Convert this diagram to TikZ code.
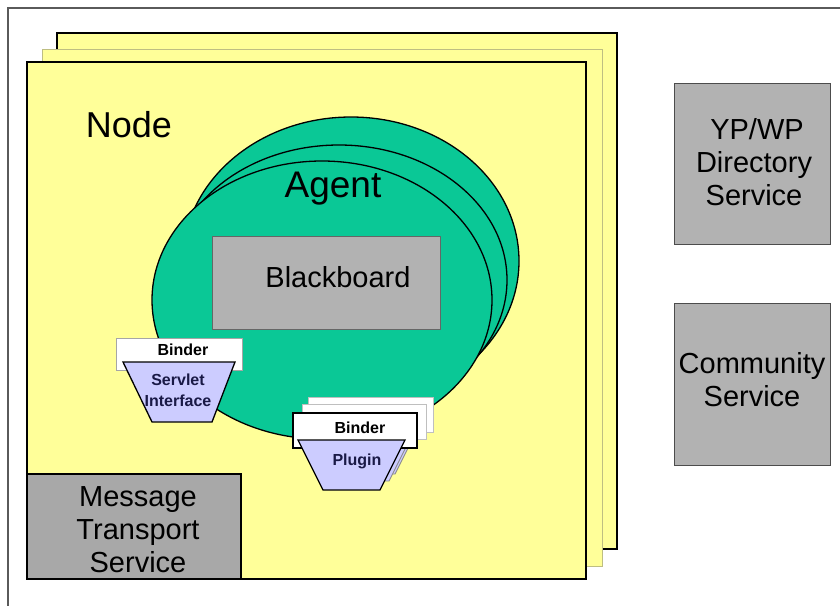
\documentclass[tikz,border=0pt]{standalone}
\usepackage{fontspec}
\setmainfont{Liberation Sans}
\usetikzlibrary{calc}
\definecolor{sheetyellow}{RGB}{255,255,153}
\definecolor{sheetedge}{RGB}{190,190,130}
\definecolor{agentgreen}{RGB}{10,200,150}
\definecolor{boxgray}{RGB}{178,178,178}
\definecolor{mtsgray}{RGB}{168,168,168}
\definecolor{lavender}{RGB}{204,204,255}
\definecolor{navytext}{RGB}{25,25,70}
\definecolor{framegray}{RGB}{90,90,90}

\tikzset{
  frameline/.style={draw=framegray, line width=1.3pt},
  sheetfront/.style={fill=sheetyellow, draw=black, line width=1.8pt},
  sheetmid/.style={fill=sheetyellow, draw=sheetedge, line width=1pt},
  agentshape/.style={fill=agentgreen, draw=black, line width=1.3pt},
  servicebox/.style={fill=boxgray, draw=black!70, line width=0.9pt},
  mtsbox/.style={fill=mtsgray, draw=black, line width=1.8pt},
  binderback/.style={fill=white, draw=black!25, line width=0.9pt},
  binderfront/.style={fill=white, draw=black, line width=1.8pt},
  pluginback/.style={fill=lavender, draw=black!45, line width=0.9pt},
  pluginfront/.style={fill=lavender, draw=black, line width=1.3pt},
  bigtext/.style={inner sep=0pt, align=center, font=\fontsize{29}{33}\selectfont},
  smalltext/.style={inner sep=0pt, align=center, font=\fontsize{16}{21}\selectfont\bfseries},
}

\begin{document}
\begin{tikzpicture}[x=1pt, y=-1pt]
\useasboundingbox (0,0) rectangle (840,605);
\fill[white] (0,0) rectangle (840,605);

% outer frame
\draw[frameline] (8,610) -- (8,8) -- (845,8);

% stacked node sheets
\path[sheetfront] (57,33) rectangle (617,549);
\path[sheetmid]   (42,49) rectangle (602,566);
\path[sheetfront] (27,62) rectangle (586,579);

\node[inner sep=0pt, font=\fontsize{36}{40}\selectfont] (nodelabel) at (129,125) {Node};

% stacked agents
\path[agentshape] (351,261) ellipse [x radius=168, y radius=144];
\path[agentshape] (339,280) ellipse [x radius=168, y radius=135];
\path[agentshape] (322,300) ellipse [x radius=170, y radius=139];

\node[inner sep=0pt, font=\fontsize{37}{40}\selectfont] (agentlabel) at (333,189) {Agent};

% blackboard
\path[servicebox, draw=black!60] (212,236) rectangle (440,329);
\node[bigtext] (blackboard) at (338,277) {Blackboard};

% servlet interface with its binder
\path[binderback, draw=black!35] (116,338) rectangle (242,370);
\node[smalltext] (servletbinder) at (183,350) {Binder};
\path[pluginfront] (123,362) -- (235,362) -- (212,422) -- (152,422) -- cycle;
\node[smalltext, text=navytext] (servlet) at (178,390) {Servlet\\Interface};

% plugin stack with binders
\path[binderback] (308,397) rectangle (433,432);
\path[pluginback] (313,424) -- (420,424) -- (395,474) -- (338,474) -- cycle;
\path[binderback] (302,404) rectangle (426,439);
\path[pluginback] (307,431) -- (414,431) -- (389,481) -- (332,481) -- cycle;
\path[binderfront] (293,413) rectangle (417,448);
\node[smalltext] (pluginbinder) at (360,428) {Binder};
\path[pluginfront] (298,440) -- (405,440) -- (380,490) -- (323,490) -- cycle;
\node[smalltext, text=navytext] (plugin) at (357,461) {Plugin};

% message transport
\path[mtsbox] (27,474) rectangle (241,579);
\node[bigtext] (mts) at (138,530) {Message\\Transport\\Service};

% external services
\path[servicebox] (674,83) rectangle (830,244);
\node[bigtext] (yp) at (754,162) {\hspace*{6pt}YP/WP\\Directory\\Service};
\path[servicebox] (674,303) rectangle (830,465);
\node[bigtext] (community) at (752,380) {Community\\Service};
\end{tikzpicture}
\end{document}
